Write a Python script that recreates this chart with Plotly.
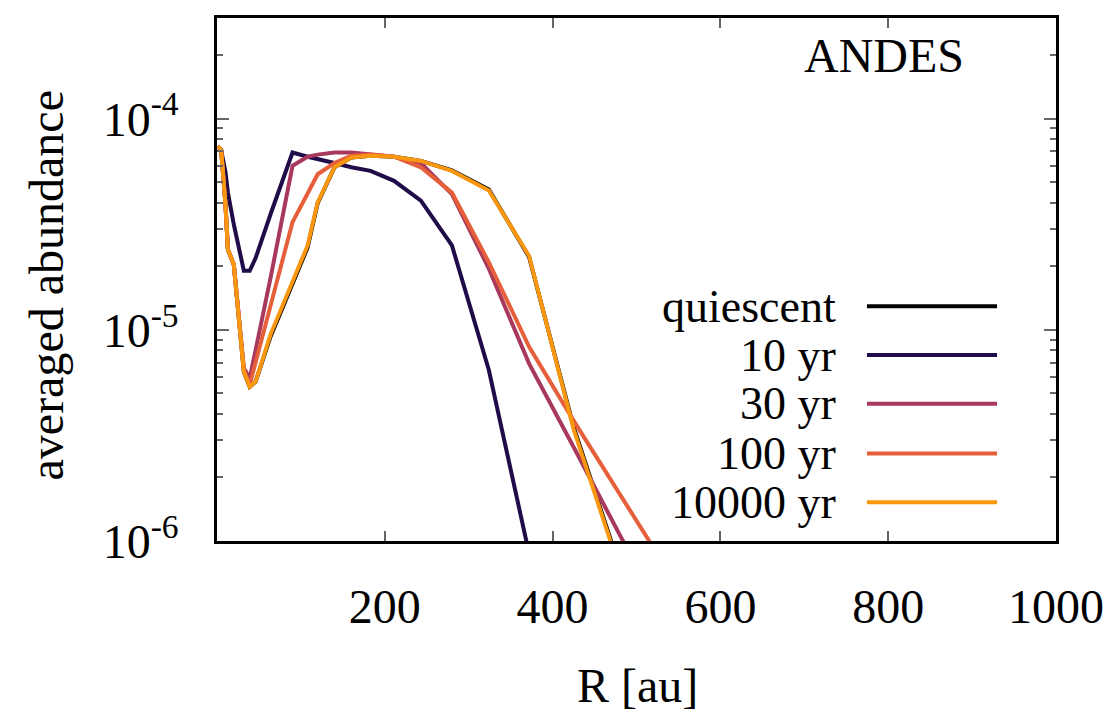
import plotly.graph_objects as go

# Radial grid [au]
R = [1, 5, 10, 13, 20, 32, 39, 46, 64, 90, 108, 120, 140, 160, 183, 211, 243, 280, 324, 372, 425, 483, 550]

# log10 of averaged abundance
log_quiescent = [-4.13, -4.15, -4.40, -4.62, -4.69, -5.20, -5.27, -5.245, -5.03, -4.78, -4.61, -4.40, -4.23,
                 -4.184, -4.175, -4.18, -4.20, -4.245, -4.335, -4.655, -5.46, -6.16, None]
log_10yr = [-4.13, -4.15, -4.25, -4.35, -4.50, -4.72, -4.72, -4.66, -4.45, -4.16, -4.18, -4.19, -4.21,
            -4.23, -4.247, -4.294, -4.388, -4.60, -5.19, -6.06, None, None, None]
log_30yr = [-4.13, -4.15, -4.40, -4.62, -4.69, -5.18, -5.23, -5.10, -4.75, -4.223, -4.18, -4.17, -4.16,
            -4.16, -4.168, -4.18, -4.21, -4.357, -4.71, -5.16, -5.555, -5.985, -6.5]
log_100yr = [-4.13, -4.15, -4.40, -4.62, -4.69, -5.19, -5.26, -5.154, -4.883, -4.49, -4.354, -4.263, -4.21,
             -4.175, -4.17, -4.18, -4.23, -4.35, -4.68, -5.08, -5.43, -5.80, -6.22]
log_10000yr = [-4.13, -4.15, -4.40, -4.62, -4.69, -5.20, -5.27, -5.245, -5.02, -4.77, -4.60, -4.396, -4.23,
               -4.184, -4.175, -4.18, -4.20, -4.247, -4.34, -4.65, -5.47, -6.17, None]

series_names = ["quiescent", "10 yr", "30 yr", "100 yr", "10000 yr"]
series_logs = [log_quiescent, log_10yr, log_30yr, log_100yr, log_10000yr]
series_colors = ["#000000", "#1f0c48", "#a8385c", "#e5603a", "#fa9710"]

x_ticks = [200, 400, 600, 800, 1000]
y_ticks = [1e-6, 1e-5, 1e-4]
y_ticktext = ["10<sup>-6</sup>", "10<sup>-5</sup>", "10<sup>-4</sup>"]

FONT = "Liberation Serif"

fig = go.Figure()
for name, logs, col in zip(series_names, series_logs, series_colors):
    vals = [None if v is None else 10 ** v for v in logs]
    fig.add_trace(go.Scatter(x=R, y=vals, mode="lines", name=name,
                             line=dict(color=col, width=4), showlegend=False))

minor_vals = [m * 10 ** e for e in (-6, -5, -4) for m in range(2, 10) if m * 10 ** e <= 3e-4]

fig.update_layout(
    width=1114, height=711,
    margin=dict(l=209, r=66, t=7, b=178),
    paper_bgcolor="white", plot_bgcolor="white",
    font=dict(family=FONT, size=48, color="black"),
    xaxis=dict(range=[0, 1000], tickmode="array", tickvals=x_ticks,
               ticks="inside", ticklen=10, tickwidth=1.5, tickcolor="#666",
               showline=True, linecolor="black", linewidth=2.5, mirror="allticks",
               showgrid=False, zeroline=False, ticklabelstandoff=22,
               tickfont=dict(family=FONT, size=48)),
    yaxis=dict(type="log", range=[-6, -3.523], tickmode="array", tickvals=y_ticks,
               ticktext=y_ticktext, ticks="inside", ticklen=12, tickwidth=1.5, tickcolor="#666",
               showline=True, linecolor="black", linewidth=2.5, mirror="allticks",
               showgrid=False, zeroline=False, ticklabelstandoff=26,
               tickfont=dict(family=FONT, size=48),
               minor=dict(tickmode="array", tickvals=minor_vals, ticks="inside",
                          ticklen=6, tickwidth=1.5, tickcolor="#666", showgrid=False)),
)

annotations = [
    dict(text="averaged abundance", xref="paper", yref="paper", x=-0.2038, y=0.4886,
         textangle=-90, showarrow=False, xanchor="center", yanchor="middle",
         font=dict(family=FONT, size=48)),
    dict(text="R [au]", xref="paper", yref="paper", x=0.5006, y=-0.276,
         showarrow=False, xanchor="center", yanchor="middle",
         font=dict(family=FONT, size=48)),
    dict(text="ANDES", xref="paper", yref="paper", x=0.8927, y=0.928,
         showarrow=False, xanchor="right", yanchor="middle",
         font=dict(family=FONT, size=48)),
]

# Manual legend: right-aligned text with line sample to its right
legend_y = [0.4487, 0.3555, 0.2624, 0.1673, 0.0741]
shapes = []
for name, col, yy in zip(series_names, series_colors, legend_y):
    annotations.append(dict(text=name, xref="paper", yref="paper", x=0.740, y=yy,
                            showarrow=False, xanchor="right", yanchor="middle",
                            font=dict(family=FONT, size=46)))
    shapes.append(dict(type="line", xref="paper", yref="paper", x0=0.7747, x1=0.9297,
                       y0=yy, y1=yy, line=dict(color=col, width=4)))

fig.update_layout(annotations=annotations, shapes=shapes)

fig.write_html("out.html")
